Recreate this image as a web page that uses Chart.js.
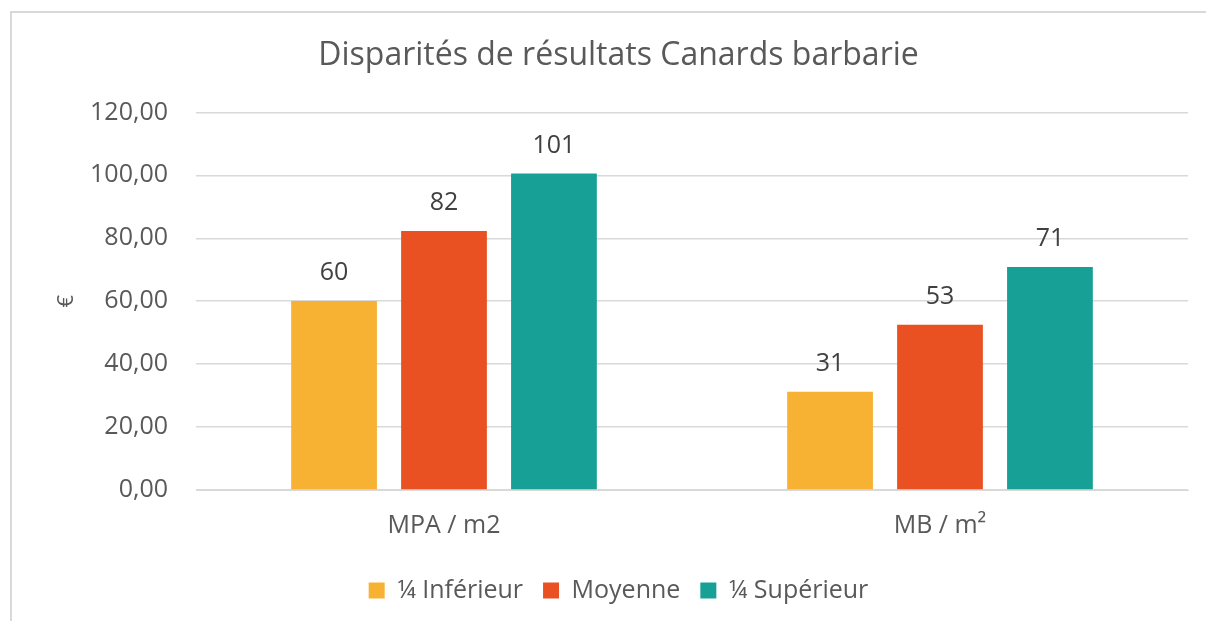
<!DOCTYPE html>
<html>
<head>
<meta charset="utf-8">
<script src="https://cdn.jsdelivr.net/npm/chart.js@4"></script>
<style>
  html, body { margin: 0; padding: 0; background: #fff; overflow: hidden; }
  #frame { position: absolute; left: 10px; top: 11px; width: 1300px; height: 700px; border: 2px solid #d9d9d9; }
  #wrap { position: absolute; left: 0; top: 0; width: 1206px; height: 621px; }
</style>
</head>
<body>
<div id="frame"></div>
<div id="wrap"><canvas id="chart"></canvas></div>
<script>
const categories = ["MPA / m2", "MB / m²"];
const seriesNames = ["¼ Inférieur", "Moyenne", "¼ Supérieur"];
const inferieur = [60.1, 31.2];
const moyenne = [82.3, 52.5];
const superieur = [100.6, 70.9];
const colors = ["#f7b233", "#e95122", "#17a096"];

const fontFam = "'Open Sans', sans-serif";

// draws the rounded value above each bar
const barLabels = {
  id: "barLabels",
  afterDatasetsDraw(chart) {
    const ctx = chart.ctx;
    ctx.save();
    ctx.font = "25px " + fontFam;
    ctx.fillStyle = "#404040";
    ctx.textAlign = "center";
    ctx.textBaseline = "middle";
    chart.data.datasets.forEach((ds, i) => {
      chart.getDatasetMeta(i).data.forEach((bar, j) => {
        ctx.fillText(Math.round(ds.data[j]), bar.x, bar.y - 28);
      });
    });
    ctx.restore();
  }
};

new Chart(document.getElementById("chart"), {
  type: "bar",
  data: {
    labels: categories,
    datasets: [
      { label: seriesNames[0], data: inferieur, backgroundColor: colors[0] },
      { label: seriesNames[1], data: moyenne, backgroundColor: colors[1] },
      { label: seriesNames[2], data: superieur, backgroundColor: colors[2] }
    ]
  },
  options: {
    responsive: true,
    maintainAspectRatio: false,
    animation: false,
    datasets: { bar: { categoryPercentage: 0.665, barPercentage: 0.78 } },
    layout: { padding: { left: 49, right: 18, top: 0, bottom: 8 } },
    plugins: {
      title: {
        display: true,
        text: "Disparités de résultats Canards barbarie",
        color: "#595959",
        font: { family: fontFam, size: 32, weight: "normal" },
        padding: { top: 37, bottom: 37 }
      },
      legend: {
        position: "bottom",
        labels: {
          color: "#595959",
          font: { family: fontFam, size: 25 },
          boxWidth: 16,
          boxHeight: 16,
          padding: 20
        }
      },
      tooltip: { enabled: false }
    },
    scales: {
      x: {
        grid: { display: false, drawTicks: false },
        border: { display: true, color: "#d9d9d9" },
        ticks: { color: "#595959", font: { family: fontFam, size: 25 }, padding: 21 },
        afterFit(scale) { scale.height = 68; }
      },
      y: {
        min: 0,
        max: 120,
        ticks: {
          stepSize: 20,
          color: "#595959",
          font: { family: fontFam, size: 25 },
          padding: 28,
          callback: v => v.toFixed(2).replace(".", ",")
        },
        grid: { color: "#d9d9d9", lineWidth: 1.5, drawTicks: false },
        border: { display: false },
        title: {
          display: true,
          text: "€",
          color: "#595959",
          font: { family: fontFam, size: 22 },
          padding: { top: 5 }
        },
        afterFit(scale) { scale.width = 147; }
      }
    }
  },
  plugins: [barLabels]
});
</script>
</body>
</html>
